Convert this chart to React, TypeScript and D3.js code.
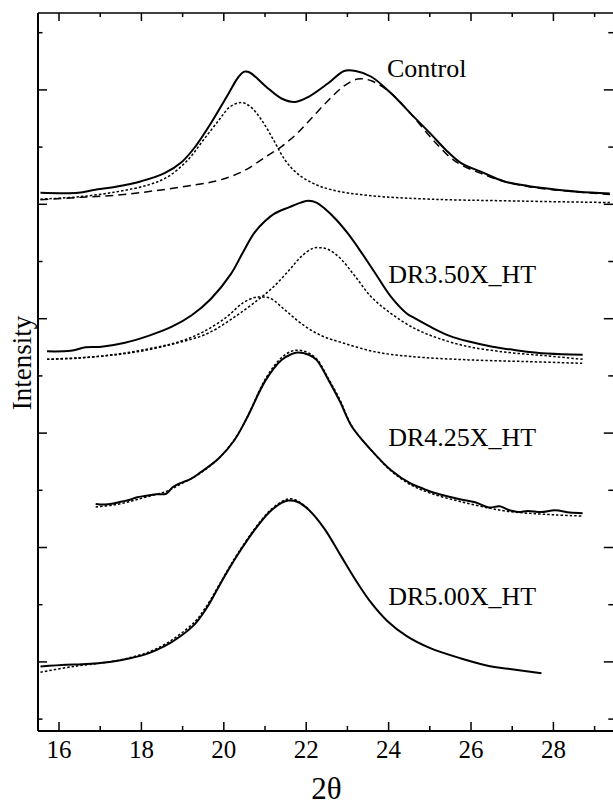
import React from 'react';
import * as d3 from 'd3';

// ---------- data ----------
const xMajorTicks = [16, 18, 20, 22, 24, 26, 28];
const xMinorTicks = [17, 19, 21, 23, 25, 27, 29];
const yTickValues = [0, 1, 2, 3, 4, 5, 6, 7, 8, 9, 10, 11, 12];

const controlObs: [number, number][] = [
  [15.55, 9.2], [16.47, 9.2], [16.84, 9.25], [17.41, 9.31], [17.98, 9.4], [18.55, 9.54],
  [18.98, 9.74], [19.31, 10.01], [19.69, 10.42], [20.07, 10.88], [20.36, 11.23], [20.5, 11.32],
  [20.64, 11.3], [21.02, 11.06], [21.4, 10.85], [21.73, 10.79], [22.06, 10.88], [22.54, 11.12],
  [22.92, 11.33], [23.2, 11.33], [23.58, 11.23], [24.06, 10.94], [24.53, 10.59], [25.01, 10.24],
  [25.39, 9.95], [25.76, 9.72], [26.24, 9.57], [26.81, 9.4], [27.38, 9.32], [28.04, 9.26],
  [28.61, 9.22], [29.37, 9.19],
];
const controlFit1: [number, number][] = [
  [15.55, 9.09], [16.47, 9.13], [17.41, 9.22], [18.17, 9.34], [18.64, 9.48], [19.12, 9.77],
  [19.5, 10.12], [19.88, 10.47], [20.16, 10.71], [20.43, 10.78], [20.64, 10.71], [20.92, 10.47],
  [21.21, 10.12], [21.49, 9.77], [21.78, 9.54], [22.16, 9.37], [22.63, 9.25], [23.58, 9.15],
  [25.01, 9.09], [26.91, 9.06], [29.37, 9.03],
];
const controlFit2: [number, number][] = [
  [15.55, 9.08], [16.47, 9.12], [17.41, 9.16], [18.36, 9.24], [19.31, 9.34], [19.88, 9.42],
  [20.45, 9.57], [21.02, 9.83], [21.4, 10.01], [21.78, 10.24], [22.16, 10.53], [22.54, 10.82],
  [22.92, 11.07], [23.25, 11.19], [23.58, 11.16], [24.06, 10.94], [24.53, 10.59], [25.01, 10.18],
  [25.48, 9.83], [25.76, 9.69], [26.24, 9.54], [26.81, 9.4], [27.38, 9.31], [28.04, 9.25],
  [29.37, 9.17],
];

const dr350Obs: [number, number][] = [
  [15.71, 6.43], [16.28, 6.44], [16.65, 6.5], [17.03, 6.51], [17.6, 6.58], [18.17, 6.7],
  [18.74, 6.86], [19.22, 7.06], [19.69, 7.35], [20.17, 7.78], [20.45, 8.14], [20.74, 8.5],
  [21.02, 8.72], [21.21, 8.83], [21.59, 8.95], [21.87, 9.03], [22.06, 9.06], [22.25, 9.03],
  [22.44, 8.93], [22.73, 8.73], [23.01, 8.49], [23.3, 8.2], [23.68, 7.79], [24.06, 7.38],
  [24.44, 7.09], [24.63, 7.01], [25.01, 6.86], [25.48, 6.7], [25.95, 6.6], [26.52, 6.51],
  [27.09, 6.45], [27.85, 6.39], [28.71, 6.37],
];
const dr350Fit1: [number, number][] = [
  [15.71, 6.29], [16.47, 6.31], [17.41, 6.38], [18.36, 6.5], [18.93, 6.6], [19.5, 6.77],
  [20.07, 7.03], [20.45, 7.27], [20.74, 7.37], [20.88, 7.38], [21.12, 7.36], [21.49, 7.15],
  [21.87, 6.92], [22.35, 6.71], [22.92, 6.57], [23.68, 6.42], [24.53, 6.34], [25.95, 6.28],
  [27.38, 6.25], [28.71, 6.22],
];
const dr350Fit2: [number, number][] = [
  [15.71, 6.29], [16.95, 6.34], [17.89, 6.42], [18.84, 6.57], [19.6, 6.74], [20.26, 7.03],
  [20.83, 7.33], [21.21, 7.56], [21.59, 7.85], [21.87, 8.08], [22.16, 8.23], [22.35, 8.24],
  [22.54, 8.21], [22.82, 8.06], [23.2, 7.73], [23.58, 7.38], [24.06, 7.09], [24.63, 6.83],
  [25.2, 6.66], [25.95, 6.51], [26.91, 6.41], [27.85, 6.35], [28.71, 6.29],
];

const dr425Obs: [number, number][] = [
  [16.89, 3.76], [17.1, 3.75], [17.32, 3.77], [17.5, 3.8], [17.7, 3.83], [17.9, 3.88],
  [18.08, 3.9], [18.35, 3.93], [18.6, 3.94], [18.75, 4.05], [18.93, 4.12], [19.2, 4.2],
  [19.41, 4.3], [19.88, 4.56], [20.26, 4.88], [20.55, 5.25], [21.02, 5.93], [21.4, 6.28],
  [21.64, 6.38], [21.78, 6.41], [22.06, 6.37], [22.25, 6.28], [22.54, 5.93], [22.82, 5.55],
  [23.11, 5.11], [23.58, 4.7], [24.06, 4.35], [24.53, 4.12], [24.8, 4.04], [25.01, 3.98],
  [25.4, 3.9], [25.76, 3.84], [26.1, 3.79], [26.43, 3.7], [26.7, 3.72], [26.9, 3.66],
  [27.15, 3.62], [27.38, 3.64], [27.7, 3.62], [28.04, 3.65], [28.4, 3.61], [28.71, 3.6],
];
const dr425Fit: [number, number][] = [
  [16.89, 3.71], [17.3, 3.74], [17.7, 3.8], [18.1, 3.88], [18.6, 3.98], [18.93, 4.1],
  [19.41, 4.29], [19.88, 4.56], [20.26, 4.89], [20.55, 5.25], [21.02, 5.96], [21.4, 6.32],
  [21.64, 6.43], [21.78, 6.45], [22.0, 6.42], [22.25, 6.3], [22.54, 5.95], [22.82, 5.58],
  [23.11, 5.12], [23.58, 4.7], [24.06, 4.34], [24.53, 4.1], [25.01, 3.95], [25.76, 3.8],
  [26.43, 3.69], [26.9, 3.63], [27.38, 3.6], [28.04, 3.57], [28.71, 3.55],
];

const dr500Obs: [number, number][] = [
  [15.55, 0.92], [16.18, 0.95], [16.56, 0.96], [17.23, 1.0], [17.7, 1.06], [18.17, 1.15],
  [18.55, 1.27], [18.93, 1.44], [19.31, 1.67], [19.5, 1.85], [19.69, 2.07], [19.88, 2.32],
  [20.12, 2.62], [20.36, 2.9], [20.74, 3.3], [21.11, 3.62], [21.4, 3.78], [21.57, 3.82],
  [21.78, 3.8], [22.06, 3.66], [22.44, 3.33], [22.82, 2.88], [23.2, 2.43], [23.58, 2.03],
  [23.96, 1.72], [24.44, 1.45], [25.01, 1.24], [25.76, 1.06], [26.43, 0.93], [26.9, 0.88],
  [27.71, 0.8],
];
const dr500Fit: [number, number][] = [
  [15.55, 0.82], [16.18, 0.9], [16.56, 0.94], [17.23, 1.0], [17.7, 1.07], [18.17, 1.17],
  [18.55, 1.3], [18.93, 1.48], [19.31, 1.71], [19.5, 1.89], [19.69, 2.1], [19.88, 2.34],
  [20.12, 2.64], [20.36, 2.92], [20.74, 3.32], [21.11, 3.64], [21.4, 3.8], [21.57, 3.85],
  [21.78, 3.82], [22.06, 3.67],
];

const seriesLabels = ['Control', 'DR3.50X_HT', 'DR4.25X_HT', 'DR5.00X_HT'];
const labelAnchors: [number, number][] = [[23.96, 11.23], [23.99, 7.62], [23.99, 4.77], [23.99, 1.99]];

// ---------- chart ----------
const W = 613;
const H = 807;
const left = 38;
const right = 614.8;
const top = 13;
const bottom = 731;
const FONT = '"Liberation Serif", "Times New Roman", Times, serif';

export default function App() {
  const x = d3.scaleLinear().domain([15.49, 29.49]).range([left, right]);
  const y = d3.scaleLinear().domain([0, 12]).range([719.1, 32.7]);
  const line = d3
    .line<[number, number]>()
    .x((d) => x(d[0]))
    .y((d) => y(d[1]))
    .curve(d3.curveCatmullRom.alpha(0.5));

  const textStyle = { fontFamily: FONT };
  const solid = { fill: 'none', stroke: '#000', strokeWidth: 2, strokeLinejoin: 'round' as const };
  const dotted = { fill: 'none', stroke: '#000', strokeWidth: 1.5, strokeDasharray: '2.5,2' };
  const dashed = { fill: 'none', stroke: '#000', strokeWidth: 1.5, strokeDasharray: '8,5' };

  return (
    <svg
      width={W}
      height={H}
      viewBox={`0 0 ${W} ${H}`}
      style={{ position: 'absolute', left: 0, top: 0, background: '#fff', fontFamily: FONT }}
    >
      <rect x={0} y={0} width={W} height={H} fill="#fff" />
      {/* frame */}
      <line x1={left} x2={left} y1={top} y2={bottom} stroke="#000" strokeWidth={2} />
      <line x1={left} x2={right} y1={bottom} y2={bottom} stroke="#000" strokeWidth={2} />
      <line x1={left} x2={right} y1={top} y2={top} stroke="#000" strokeWidth={1.5} />
      <line x1={right} x2={right} y1={top} y2={bottom} stroke="#000" strokeWidth={1.5} />

      {/* x ticks */}
      {xMajorTicks.map((t) => (
        <g key={'xM' + t}>
          <line x1={x(t)} x2={x(t)} y1={bottom} y2={bottom - 9} stroke="#000" strokeWidth={1.5} />
          <line x1={x(t)} x2={x(t)} y1={top} y2={top + 8} stroke="#000" strokeWidth={1.5} />
          <text x={x(t)} y={758} textAnchor="middle" style={textStyle} fontSize={25}>
            {t}
          </text>
        </g>
      ))}
      {xMinorTicks.map((t) => (
        <g key={'xm' + t}>
          <line x1={x(t)} x2={x(t)} y1={bottom} y2={bottom - 5} stroke="#000" strokeWidth={1.5} />
          <line x1={x(t)} x2={x(t)} y1={top} y2={top + 4} stroke="#000" strokeWidth={1.5} />
        </g>
      ))}
      {/* y ticks */}
      {yTickValues.map((t) => {
        const len = t % 2 === 1 ? 9 : 4.5;
        return (
          <g key={'y' + t}>
            <line x1={left} x2={left + len} y1={y(t)} y2={y(t)} stroke="#000" strokeWidth={1.5} />
            <line x1={right} x2={right - len - 2} y1={y(t)} y2={y(t)} stroke="#000" strokeWidth={1.5} />
          </g>
        );
      })}

      {/* curves */}
      <path d={line(controlFit1) || ''} {...dotted} />
      <path d={line(controlFit2) || ''} {...dashed} />
      <path d={line(controlObs) || ''} {...solid} />

      <path d={line(dr350Fit1) || ''} {...dotted} />
      <path d={line(dr350Fit2) || ''} {...dotted} />
      <path d={line(dr350Obs) || ''} {...solid} />

      <path d={line(dr425Fit) || ''} {...dotted} />
      <path d={line(dr425Obs) || ''} {...solid} />

      <path d={line(dr500Fit) || ''} {...dotted} />
      <path d={line(dr500Obs) || ''} {...solid} />

      {/* labels */}
      {seriesLabels.map((s, i) => (
        <text
          key={s}
          x={x(labelAnchors[i][0])}
          y={y(labelAnchors[i][1])}
          style={textStyle}
          fontSize={26}
        >
          {s}
        </text>
      ))}

      <text x={(left + right) / 2} y={799} textAnchor="middle" style={textStyle} fontSize={31}>
        2θ
      </text>
      <text
        transform={`translate(31, 363) rotate(-90)`}
        textAnchor="middle"
        style={textStyle}
        fontSize={27}
      >
        Intensity
      </text>
    </svg>
  );
}
